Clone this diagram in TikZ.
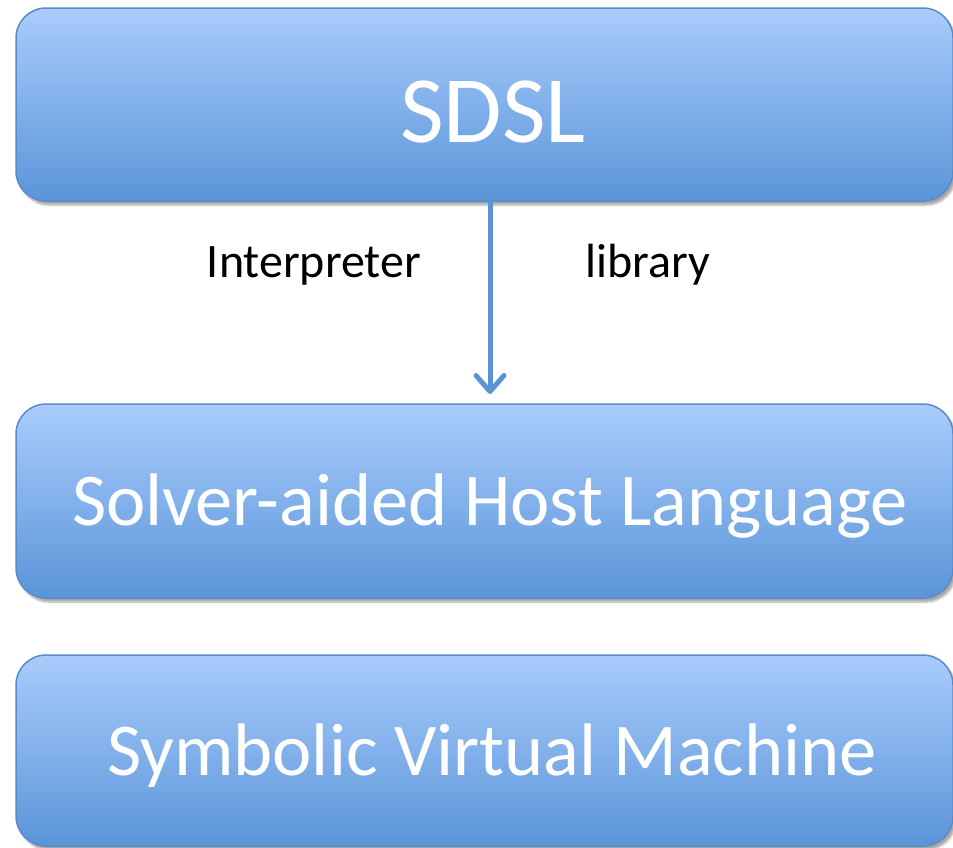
\documentclass[tikz,border=0pt]{standalone}
\usepackage{fontspec}
\setmainfont{Carlito}
\usetikzlibrary{arrows.meta,shadows.blur}
\definecolor{boxtop}{HTML}{AACCFC}
\definecolor{boxbot}{HTML}{5A95D9}
\definecolor{boxline}{HTML}{5A8BC8}
\definecolor{arrowcol}{HTML}{5B93D3}
\begin{document}
\begin{tikzpicture}[x=1pt,y=-1pt,
  layerbox/.style={rounded corners=30pt, top color=boxtop, bottom color=boxbot,
    draw=boxline, line width=1.5pt, inner sep=0pt,
    blur shadow={shadow xshift=3pt, shadow yshift=-4pt, shadow blur steps=6,
      shadow blur extra rounding=2pt, shadow opacity=35}},
  boxtext/.style={anchor=base, text=white, inner sep=0pt},
  sidetext/.style={anchor=base, text=black, inner sep=0pt, font=\fontsize{48}{58}\selectfont},
  flow/.style={draw=arrowcol, line width=5pt,
    -{Straight Barb[length=16pt, width=28pt, line width=5pt, round]}}]
  \useasboundingbox (0,0) rectangle (953,847);

  % three layers
  \path[layerbox] (16,8) rectangle (953,201);
  \path[layerbox] (16,404) rectangle (953,598);
  \path[layerbox] (16,655) rectangle (953,846);
  \coordinate (sdslbottom) at (490,201);
  \coordinate (hosttop) at (490,394);

  \node[boxtext, font=\fontsize{95}{114}\selectfont] (sdsl) at (493,142) {SDSL};
  \node[boxtext, font=\fontsize{74.5}{90}\selectfont] (host) at (490,525) {Solver-aided Host Language};
  \node[boxtext, font=\fontsize{74.5}{90}\selectfont] (svm) at (492,775) {Symbolic Virtual Machine};

  % embedding arrow and its two labels
  \draw[flow] (sdslbottom) -- (hosttop);
  \node[sidetext] (interp) at (314,277) {Interpreter};
  \node[sidetext] (lib) at (648,277) {library};
\end{tikzpicture}
\end{document}
